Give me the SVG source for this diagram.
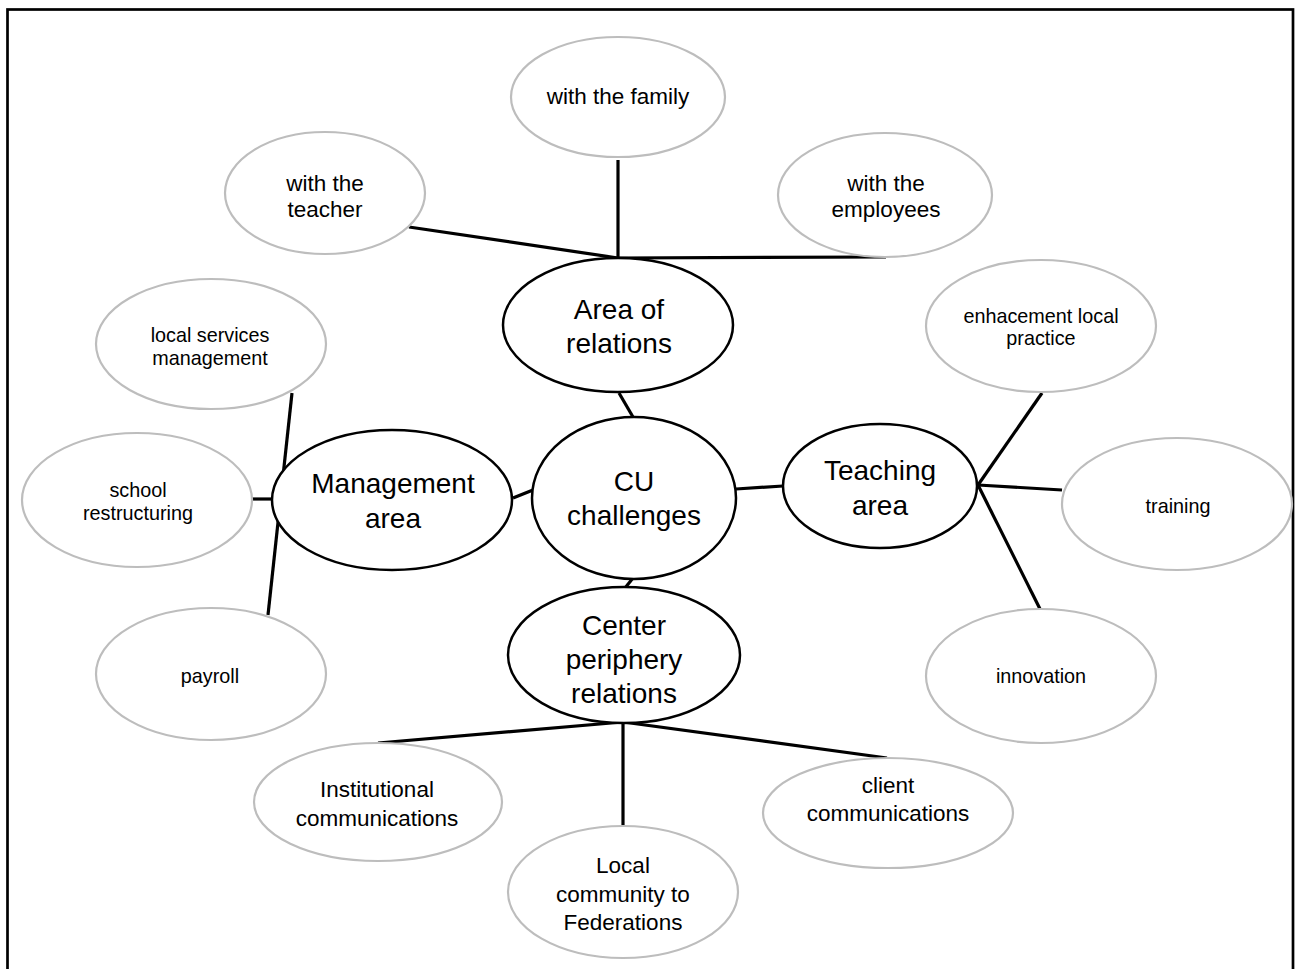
<svg xmlns="http://www.w3.org/2000/svg" width="1302" height="969" viewBox="0 0 1302 969">
<style>
.bg{fill:#fff}
.frame{fill:none;stroke:#000;stroke-width:2.7}
.main{fill:#fff;stroke:#000;stroke-width:2.5}
.sub{fill:#fff;stroke:#bdbdbd;stroke-width:2.2}
.con line{stroke:#000;stroke-width:3.2;stroke-linecap:butt}
text{font-family:"Liberation Sans",Arial,sans-serif;fill:#000;text-anchor:middle}
.big{font-size:28px}
.mid{font-size:22.5px}
.sm{font-size:19.8px}
</style>
<rect class="bg" x="0" y="0" width="1302" height="969"/>
<rect class="frame" x="7.5" y="9.5" width="1285.5" height="985"/>
<g id="connectors" class="con">
<line x1="409" y1="227" x2="618" y2="258"/>
<line x1="618" y1="160" x2="618" y2="258"/>
<line x1="618" y1="258" x2="886" y2="257"/>
<line x1="619" y1="393" x2="633" y2="417"/>
<line x1="513" y1="498" x2="533" y2="490"/>
<line x1="736" y1="489" x2="783" y2="486"/>
<line x1="633" y1="578" x2="625" y2="588"/>
<line x1="292" y1="393" x2="268" y2="615"/>
<line x1="252" y1="499" x2="274" y2="499"/>
<line x1="978" y1="485" x2="1042" y2="393"/>
<line x1="978" y1="485" x2="1062" y2="490"/>
<line x1="978" y1="485" x2="1040" y2="609"/>
<line x1="623" y1="722" x2="378" y2="743"/>
<line x1="623" y1="722" x2="623" y2="826"/>
<line x1="623" y1="722" x2="887" y2="758"/>
</g>
<g id="cu-challenges">
<ellipse class="main" cx="634" cy="498" rx="102" ry="81"/>
<text class="big" x="634" y="491">CU</text>
<text class="big" x="634" y="525">challenges</text>
</g>
<g id="area-of-relations">
<ellipse class="main" cx="618" cy="325" rx="115" ry="67"/>
<text class="big" x="619" y="319">Area of</text>
<text class="big" x="619" y="353">relations</text>
</g>
<g id="management-area">
<ellipse class="main" cx="392" cy="500" rx="120" ry="70"/>
<text class="big" x="393" y="493">Management</text>
<text class="big" x="393" y="528">area</text>
</g>
<g id="teaching-area">
<ellipse class="main" cx="880" cy="486" rx="97" ry="62"/>
<text class="big" x="880" y="480">Teaching</text>
<text class="big" x="880" y="515">area</text>
</g>
<g id="center-periphery">
<ellipse class="main" cx="624" cy="655" rx="116" ry="68"/>
<text class="big" x="624" y="635">Center</text>
<text class="big" x="624" y="669">periphery</text>
<text class="big" x="624" y="703">relations</text>
</g>
<g id="with-family">
<ellipse class="sub" cx="618" cy="97" rx="107" ry="60"/>
<text class="mid" x="618" y="104">with the family</text>
</g>
<g id="with-teacher">
<ellipse class="sub" cx="325" cy="193" rx="100" ry="61"/>
<text class="mid" x="325" y="191">with the</text>
<text class="mid" x="325" y="217">teacher</text>
</g>
<g id="with-employees">
<ellipse class="sub" cx="885" cy="195" rx="107" ry="62"/>
<text class="mid" x="886" y="191">with the</text>
<text class="mid" x="886" y="217">employees</text>
</g>
<g id="local-services">
<ellipse class="sub" cx="211" cy="344" rx="115" ry="65"/>
<text class="sm" x="210" y="342">local services</text>
<text class="sm" x="210" y="365">management</text>
</g>
<g id="school-restructuring">
<ellipse class="sub" cx="137" cy="500" rx="115" ry="67"/>
<text class="sm" x="138" y="497">school</text>
<text class="sm" x="138" y="520">restructuring</text>
</g>
<g id="payroll">
<ellipse class="sub" cx="211" cy="674" rx="115" ry="66"/>
<text class="sm" x="210" y="683">payroll</text>
</g>
<g id="enhacement">
<ellipse class="sub" cx="1041" cy="326" rx="115" ry="66"/>
<text class="sm" x="1041" y="323">enhacement local</text>
<text class="sm" x="1041" y="345">practice</text>
</g>
<g id="training">
<ellipse class="sub" cx="1177" cy="504" rx="115" ry="66"/>
<text class="sm" x="1178" y="513">training</text>
</g>
<g id="innovation">
<ellipse class="sub" cx="1041" cy="676" rx="115" ry="67"/>
<text class="sm" x="1041" y="683">innovation</text>
</g>
<g id="institutional">
<ellipse class="sub" cx="378" cy="802" rx="124" ry="59"/>
<text class="mid" x="377" y="797">Institutional</text>
<text class="mid" x="377" y="826">communications</text>
</g>
<g id="local-community">
<ellipse class="sub" cx="623" cy="892" rx="115" ry="66"/>
<text class="mid" x="623" y="873">Local</text>
<text class="mid" x="623" y="902">community to</text>
<text class="mid" x="623" y="930">Federations</text>
</g>
<g id="client">
<ellipse class="sub" cx="888" cy="813" rx="125" ry="55"/>
<text class="mid" x="888" y="793">client</text>
<text class="mid" x="888" y="821">communications</text>
</g>
</svg>
